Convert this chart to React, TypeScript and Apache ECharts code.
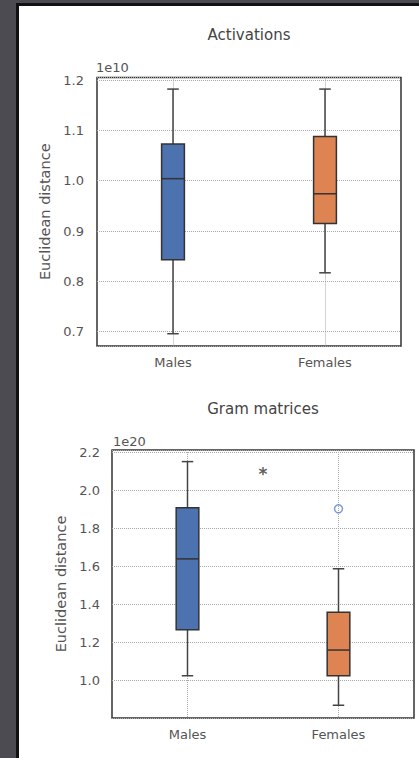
import React, { useEffect, useRef } from 'react';
import * as echarts from 'echarts';

const categories = ['Males', 'Females'];
// [min, Q1, median, Q3, max] — Activations, units of 1e10
const activationsMales = [0.696, 0.843, 1.004, 1.073, 1.182];
const activationsFemales = [0.817, 0.915, 0.974, 1.088, 1.182];
// [min, Q1, median, Q3, max] — Gram matrices, units of 1e20
const gramMales = [1.026, 1.268, 1.64, 1.909, 2.151];
const gramFemales = [0.871, 1.026, 1.161, 1.36, 1.588];
const gramOutliers: [string, number][] = [['Females', 1.903]];
// significance marker, x on a 0..2 scale (1 = between the groups)
const gramSignificance: [number, number][] = [[1, 2.103]];
const boxColors = ['#4c72b0', '#dd8452'];

const FONT = 'DejaVu Sans';
const TEXT = '#555';
const GRID_LINE = { color: '#a8a8a8', width: 1, type: 'dotted' as const };

const renderBox = (params: any, api: any) => {
  const idx = api.value(0);
  const pts = [1, 2, 3, 4, 5].map((d) => api.coord([idx, api.value(d)]));
  const x = pts[0][0];
  const band = api.size([1, 0])[0];
  const bw = band * 0.15;
  const cw = band * 0.076;
  const [yMin, yQ1, yMed, yQ3, yMax] = pts.map((p: number[]) => p[1]);
  const ls = { stroke: '#444', lineWidth: 1.5 };
  return {
    type: 'group',
    children: [
      { type: 'line', shape: { x1: x, y1: yQ1, x2: x, y2: yMin }, style: ls },
      { type: 'line', shape: { x1: x, y1: yQ3, x2: x, y2: yMax }, style: ls },
      { type: 'line', shape: { x1: x - cw / 2, y1: yMin, x2: x + cw / 2, y2: yMin }, style: ls },
      { type: 'line', shape: { x1: x - cw / 2, y1: yMax, x2: x + cw / 2, y2: yMax }, style: ls },
      {
        type: 'rect',
        shape: { x: x - bw / 2, y: yQ3, width: bw, height: yQ1 - yQ3 },
        style: { fill: boxColors[params.dataIndex], stroke: '#333', lineWidth: 1.5 },
      },
      { type: 'line', shape: { x1: x - bw / 2, y1: yMed, x2: x + bw / 2, y2: yMed }, style: { stroke: '#333', lineWidth: 1.5 } },
    ],
  };
};

const catAxis = (gridIndex: number) => ({
  type: 'category' as const,
  gridIndex,
  data: categories,
  axisLine: { show: false },
  axisTick: { show: false },
  axisLabel: { color: TEXT, fontSize: 13, margin: 10, fontFamily: FONT },
  splitLine: { show: true, alignWithLabel: true, lineStyle: GRID_LINE },
});

const valAxis = (gridIndex: number, min: number, max: number, splitNumber: number, nameGap: number) => ({
  type: 'value' as const,
  gridIndex,
  min,
  max,
  splitNumber,
  name: 'Euclidean distance',
  nameLocation: 'middle' as const,
  nameGap,
  nameTextStyle: { color: TEXT, fontSize: 14.5, fontFamily: FONT },
  axisLine: { show: false },
  axisTick: { show: false },
  axisLabel: {
    color: TEXT,
    fontSize: 13,
    fontFamily: FONT,
    margin: gridIndex === 0 ? 13 : 12,
    showMinLabel: false,
    showMaxLabel: false,
    formatter: (v: number) => v.toFixed(1),
  },
  splitLine: { show: true, lineStyle: GRID_LINE },
});

const option: any = {
  animation: false,
  textStyle: { fontFamily: FONT },
  title: [
    {
      text: 'Activations',
      left: 249,
      top: 27,
      padding: 0,
      textAlign: 'center',
      textStyle: { fontSize: 15, fontWeight: 'normal', color: '#444', fontFamily: FONT },
    },
    {
      text: 'Gram matrices',
      left: 263,
      top: 401,
      padding: 0,
      textAlign: 'center',
      textStyle: { fontSize: 15, fontWeight: 'normal', color: '#444', fontFamily: FONT },
    },
  ],
  graphic: [
    { type: 'text', x: 96, y: 67.5, style: { text: '1e10', font: `13px "${FONT}"`, fill: TEXT, verticalAlign: 'middle' } },
    { type: 'text', x: 113, y: 441, style: { text: '1e20', font: `13px "${FONT}"`, fill: TEXT, verticalAlign: 'middle' } },
  ],
  grid: [
    { left: 97, top: 77.5, width: 304, height: 268.5, show: true, borderColor: '#333', borderWidth: 1.5, backgroundColor: 'transparent' },
    { left: 112, top: 450, width: 302, height: 268, show: true, borderColor: '#333', borderWidth: 1.5, backgroundColor: 'transparent' },
  ],
  xAxis: [
    catAxis(0),
    catAxis(1),
    { type: 'value', gridIndex: 1, min: 0, max: 2, show: false },
  ],
  yAxis: [valAxis(0, 0.6716, 1.205, 5, 43), valAxis(1, 0.804, 2.212, 7, 41)],
  series: [
    {
      type: 'custom',
      xAxisIndex: 0,
      yAxisIndex: 0,
      renderItem: renderBox,
      encode: { x: 0, y: [1, 2, 3, 4, 5] },
      data: [[0, ...activationsMales], [1, ...activationsFemales]],
    },
    {
      type: 'custom',
      xAxisIndex: 1,
      yAxisIndex: 1,
      renderItem: renderBox,
      encode: { x: 0, y: [1, 2, 3, 4, 5] },
      data: [[0, ...gramMales], [1, ...gramFemales]],
    },
    {
      type: 'scatter',
      xAxisIndex: 1,
      yAxisIndex: 1,
      symbol: 'circle',
      symbolSize: 8,
      itemStyle: { color: 'rgba(255,255,255,0)', borderColor: '#5d82c8', borderWidth: 1.5 },
      data: gramOutliers,
      z: 5,
    },
    {
      type: 'scatter',
      xAxisIndex: 2,
      yAxisIndex: 1,
      symbolSize: 1,
      itemStyle: { color: 'rgba(0,0,0,0)' },
      label: {
        show: true,
        position: 'inside',
        formatter: '*',
        fontSize: 17,
        fontWeight: 'bold',
        color: '#333',
        fontFamily: FONT,
        offset: [0, 3.5],
      },
      data: gramSignificance,
      z: 5,
    },
  ],
};

export default function App() {
  const ref = useRef<HTMLDivElement>(null);
  useEffect(() => {
    const chart = echarts.init(ref.current!, null, { renderer: 'svg' });
    chart.setOption(option);
    return () => chart.dispose();
  }, []);
  return (
    <div style={{ position: 'fixed', left: 0, top: 0, width: 419, height: 758, background: '#4c4b51', overflow: 'hidden' }}>
      <div
        style={{
          position: 'absolute',
          left: 16,
          top: 3,
          width: 420,
          height: 780,
          border: '3px solid #111',
          background: '#fff',
        }}
      />
      <div ref={ref} style={{ position: 'absolute', left: 0, top: 0, width: 419, height: 758 }} />
    </div>
  );
}
